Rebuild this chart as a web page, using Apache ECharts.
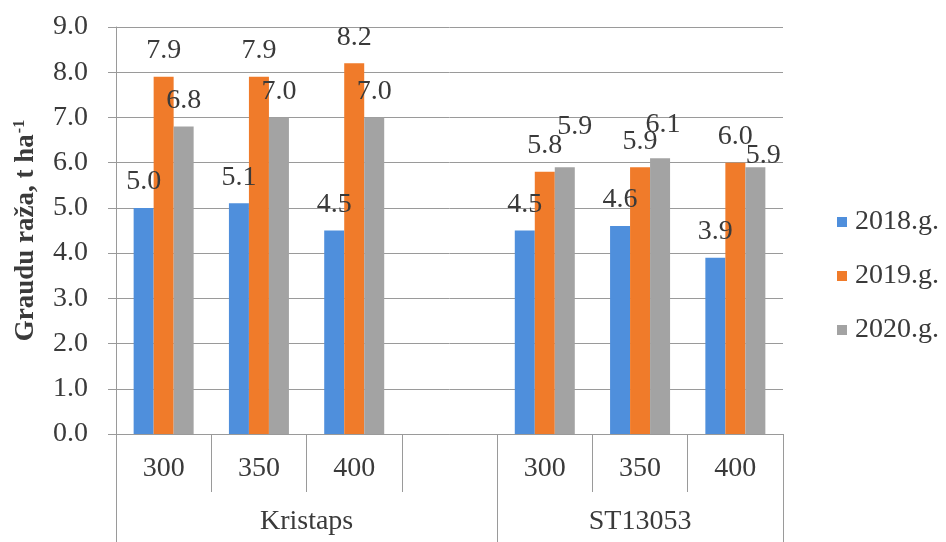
<!DOCTYPE html>
<html>
<head>
<meta charset="utf-8">
<script src="https://cdn.jsdelivr.net/npm/echarts@6/dist/echarts.min.js"></script>
<style>
  html, body { margin: 0; padding: 0; background: #ffffff; }
  #chart { width: 946px; height: 542px; }
</style>
</head>
<body>
<div id="chart"></div>
<script>
// Rye grain yield (t/ha) by seeding rate and variety, three seasons
const varieties = ['Kristaps', 'ST13053'];
const doses = ['300', '350', '400'];
const years = ['2018.g.', '2019.g.', '2020.g.'];

const kristaps2018 = [5.0, 5.1, 4.5];
const kristaps2019 = [7.9, 7.9, 8.2];
const kristaps2020 = [6.8, 7.0, 7.0];
const st2018 = [4.5, 4.6, 3.9];
const st2019 = [5.8, 5.9, 6.0];
const st2020 = [5.9, 6.1, 5.9];

const yTicks = ['0.0', '1.0', '2.0', '3.0', '4.0', '5.0', '6.0', '7.0', '8.0', '9.0'];

// Category list with an empty spacer slot between the two varieties
const categories = [...doses, '', ...doses];
const join = (a, b) => [...a, null, ...b];
const seriesValues = [
  join(kristaps2018, st2018),
  join(kristaps2019, st2019),
  join(kristaps2020, st2020)
];

const colors = ['#4f8fdc', '#f07b2a', '#a3a3a3'];
const FONT = '"Liberation Serif", "Times New Roman", serif';
const TEXT = '#3a3a3a';
const LINE = '#9a9a9a';

// Label nudges where neighbouring value labels would collide
const labelNudge = {
  '2-4': [10, -15],
  '2-5': [3, -8],
  '2-6': [8, 14]
};

const groupStart = doses.length + 1;           // first slot of the second variety
const groupEnd = categories.length;

const chart = echarts.init(document.getElementById('chart'), null, { renderer: 'canvas' });

chart.setOption({
  animation: false,
  backgroundColor: '#ffffff',
  textStyle: { fontFamily: FONT },
  grid: { left: 116, right: 163, top: 27, bottom: 108, containLabel: false },
  legend: {
    orient: 'vertical',
    left: 832,
    top: 202,
    itemWidth: 10,
    itemHeight: 10,
    itemGap: 24,
    icon: 'rect',
    data: years,
    textStyle: { fontFamily: FONT, fontSize: 28, color: TEXT, lineHeight: 30, padding: [0, 0, 0, 3] }
  },
  xAxis: [
    {
      type: 'category',
      data: categories,
      position: 'bottom',
      boundaryGap: true,
      axisLine: { show: true, lineStyle: { color: LINE, width: 1 } },
      axisTick: { show: true, interval: 0, length: 58, lineStyle: { color: LINE, width: 1 } },
      axisLabel: { interval: 0, margin: 21, fontFamily: FONT, fontSize: 28, color: TEXT },
      splitLine: { show: false }
    },
    {
      type: 'value',
      min: 0,
      max: groupEnd,
      position: 'bottom',
      axisLine: { show: false },
      axisTick: {
        show: true,
        length: 108,
        customValues: [0, groupStart, groupEnd],
        lineStyle: { color: LINE, width: 1 }
      },
      axisLabel: {
        show: true,
        margin: 74,
        customValues: [(groupStart) / 2, (groupStart + groupEnd) / 2],
        formatter: v => (v < groupStart ? varieties[0] : varieties[1]),
        fontFamily: FONT,
        fontSize: 28,
        color: TEXT
      },
      splitLine: { show: false }
    }
  ],
  yAxis: {
    type: 'value',
    min: 0,
    max: 9,
    interval: 1,
    name: '{a|Graudu raža, t ha}{b|-1}',
    nameLocation: 'middle',
    nameRotate: 90,
    nameGap: 76,
    nameTextStyle: {
      rich: {
        a: { fontFamily: FONT, fontSize: 27, fontWeight: 'bold', color: TEXT },
        b: { fontFamily: FONT, fontSize: 16, fontWeight: 'bold', color: TEXT, padding: [0, 0, 12, 1] }
      }
    },
    axisLine: { show: true, lineStyle: { color: LINE, width: 1 } },
    axisTick: { show: true, length: 8, lineStyle: { color: LINE, width: 1 } },
    axisLabel: {
      margin: 28,
      fontFamily: FONT,
      fontSize: 28,
      color: TEXT,
      formatter: v => yTicks[Math.round(v)]
    },
    splitLine: { show: true, lineStyle: { color: LINE, width: 1 } }
  },
  series: years.map((name, si) => ({
    name,
    type: 'bar',
    xAxisIndex: 0,
    barWidth: 20,
    barGap: '0%',
    itemStyle: { color: colors[si] },
    data: seriesValues[si].map((v, i) => {
      if (v === null) return null;
      const nudge = labelNudge[si + '-' + i];
      const item = { value: v };
      if (nudge) item.label = { offset: nudge };
      return item;
    }),
    label: {
      show: true,
      position: 'top',
      distance: 12,
      fontFamily: FONT,
      fontSize: 28,
      color: TEXT,
      formatter: p => Number(p.value).toFixed(1)
    }
  }))
});
</script>
</body>
</html>
